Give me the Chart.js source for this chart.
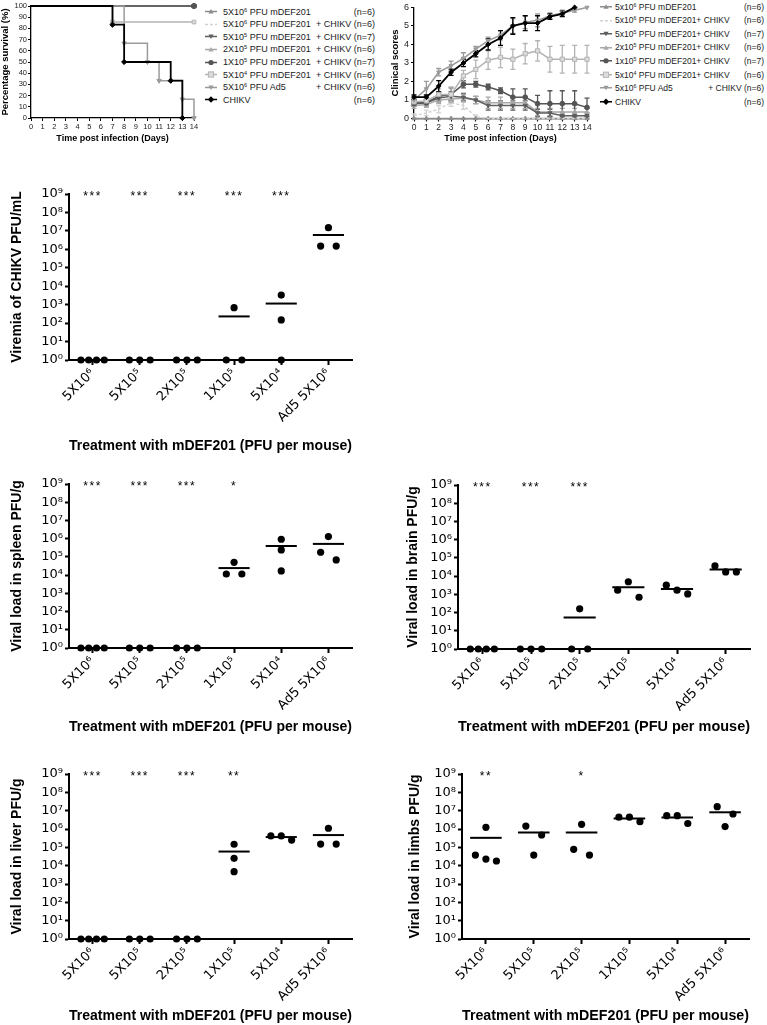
<!DOCTYPE html>
<html>
<head>
<meta charset="utf-8">
<title>mDEF201 protection against CHIKV</title>
<script src="https://cdn.jsdelivr.net/npm/chart.js@4.4.1/dist/chart.umd.min.js"></script>
<style>
html,body{margin:0;padding:0;background:#fff;}
body{position:relative;width:767px;height:1025px;overflow:hidden;font-family:"Liberation Sans",Arial,Helvetica,sans-serif;}
canvas{position:absolute;}
.legend{position:absolute;color:#1a1a1a;}
.lrow{position:absolute;left:0;display:flex;align-items:center;white-space:nowrap;transform:translateY(-50%);line-height:1;}
.lrow svg{flex:none;}
.lrow .nm{flex:1 1 auto;}
.lrow .sf{flex:none;text-align:right;}
sup{font-size:0.62em;line-height:0;vertical-align:0.5em;}
</style>
</head>
<body>
<canvas id="cSurv"></canvas>
<div id="leg1" class="legend"></div>
<canvas id="cClin"></canvas>
<div id="leg2" class="legend"></div>
<canvas id="cVir"></canvas>
<canvas id="cSpl"></canvas>
<canvas id="cBra"></canvas>
<canvas id="cLiv"></canvas>
<canvas id="cLim"></canvas>
<script>
const FONT = '"Liberation Sans", Arial, Helvetica, sans-serif';
const TICKFONT = '"DejaVu Sans", "Liberation Sans", Arial, sans-serif';

/* ================= DATA ================= */
const days = [0,1,2,3,4,5,6,7,8,9,10,11,12,13,14];

// Kaplan-Meier survival (%): event days and survival after each event
const survDays5e6  = [0,14];              const survPct5e6  = [100,100];
const survDays5e6C = [0,14];              const survPct5e6C = [100,100];
const survDays5e5  = [0,14];              const survPct5e5  = [100,100];
const survDays2e5  = [0,14];              const survPct2e5  = [100,100];
const survDays1e5  = [0,14];              const survPct1e5  = [100,100];
const survDays5e4  = [0,7,14];            const survPct5e4  = [100,85.7,85.7];
const survDaysAd5  = [0,8,10,11,13,14];   const survPctAd5  = [100,66.7,50,33.3,16.7,0];
const survDaysCHIKV= [0,7,8,12,13];       const survPctCHIKV= [100,83.3,50,33.3,0];

// clinical scores (mean) and SEM per day
const clin5e6   = [0,0,0,0,0,0,0,0,0,0,0,0,0,0,0];
const sem5e6    = [0,0,0,0,0,0,0,0,0,0,0,0,0,0,0];
const clin5e6C  = [0.15,0.3,0.5,0.85,0.7,0.1,0,0,0,0,0,0,0,0,0];
const sem5e6C   = [0.1,0.15,0.2,0.2,0.2,0.1,0,0,0,0,0,0,0,0,0];
const clin5e5   = [0.85,0.85,1.1,1.2,1.15,1.0,0.7,0.7,0.7,0.7,0.3,0.3,0.15,0.15,0.15];
const sem5e5    = [0.15,0.15,0.2,0.25,0.2,0.2,0.25,0.25,0.25,0.25,0.2,0.2,0.15,0.15,0.15];
const clin2e5   = [0.7,0.75,1.0,1.05,1.1,1.0,0.85,0.85,0.85,0.85,0.35,0.35,0.35,0.35,0.35];
const sem2e5    = [0.15,0.15,0.2,0.2,0.2,0.2,0.3,0.3,0.3,0.3,0.2,0.2,0.2,0.2,0.2];
const clin1e5   = [0.8,0.85,1.2,1.3,1.85,1.85,1.7,1.5,1.15,1.15,0.8,0.8,0.8,0.8,0.6];
const sem1e5    = [0.15,0.15,0.2,0.35,0.2,0.15,0.15,0.15,0.45,0.45,0.45,0.7,0.7,0.7,0.5];
const clin5e4   = [0.9,0.95,1.3,1.3,2.3,2.65,3.15,3.3,3.2,3.5,3.65,3.2,3.2,3.2,3.2];
const sem5e4    = [0.15,0.2,0.3,0.4,0.3,0.5,0.5,0.55,0.55,0.55,0.55,0.7,0.75,0.75,0.75];
const clinAd5   = [1.0,1.6,2.5,2.85,3.25,3.75,4.2,4.5,5.0,5.2,5.3,5.55,5.7,5.85,6.0];
const semAd5    = [0.15,0.4,0.2,0.25,0.3,0.15,0.2,0.25,0.4,0.35,0.35,0.15,0.15,0.1,0];
const clinCHIKV = [1.15,1.15,1.75,2.5,3.0,3.5,4.0,4.35,5.0,5.15,5.15,5.5,5.65,6.0,null];
const semCHIKV  = [0.12,0.12,0.3,0.17,0.2,0.17,0.3,0.4,0.45,0.4,0.4,0.15,0.15,0,null];

// legends
const legend1Names = ['5X10<sup>6</sup> PFU mDEF201','5X10<sup>6</sup> PFU mDEF201','5X10<sup>5</sup> PFU mDEF201','2X10<sup>5</sup> PFU mDEF201','1X10<sup>5</sup> PFU mDEF201','5X10<sup>4</sup> PFU mDEF201','5X10<sup>6</sup> PFU Ad5','CHIKV'];
const legend1Suffix = ['(n=6)','+ CHIKV (n=6)','+ CHIKV (n=7)','+ CHIKV (n=6)','+ CHIKV (n=7)','+ CHIKV (n=6)','+ CHIKV (n=6)','(n=6)'];
const legend2Names = ['5x10<sup>6</sup> PFU mDEF201','5x10<sup>6</sup> PFU mDEF201+ CHIKV','5x10<sup>5</sup> PFU mDEF201+ CHIKV','2x10<sup>5</sup> PFU mDEF201+ CHIKV','1x10<sup>5</sup> PFU mDEF201+ CHIKV','5x10<sup>4</sup> PFU mDEF201+ CHIKV','5x10<sup>6</sup> PFU Ad5','CHIKV'];
const legend2Suffix = ['(n=6)','(n=6)','(n=7)','(n=6)','(n=7)','(n=6)','+ CHIKV (n=6)','(n=6)'];

// virus titers (one sub-array per treatment group, points listed left to right)
const categories = ['5X10⁶','5X10⁵','2X10⁵','1X10⁵','5X10⁴','Ad5 5X10⁶'];
const decadeTicks = [1,10,100,1e3,1e4,1e5,1e6,1e7,1e8,1e9];
const viremia = [[1,1,1,1],[1,1,1],[1,1,1],[1,690,1],[3300,148,1],[1.5e6,1.5e7,1.5e6]];
const viremiaSig = ['***','***','***','***','***',''];
const spleen = [[1,1,1,1],[1,1,1],[1,1,1],[1.15e4,5e4,1.15e4],[9.3e5,2.4e5,1.7e4],[1.8e5,1.3e6,6.8e4]];
const spleenSig = ['***','***','***','*','',''];
const brain = [[1,1,1,1],[1,1,1],[1,160,1],[1700,4900,690],[3200,1700,1050],[3.6e4,1.7e4,1.7e4]];
const brainSig = ['***','***','***','','',''];
const liver = [[1,1,1,1],[1,1,1],[1,1,1],[1.47e5,2.5e4,4.7e3],[4.2e5,4.2e5,2.5e5],[1.5e5,1.1e6,1.5e5]];
const liverSig = ['***','***','***','**','',''];
const limbs = [[3.8e4,1.24e6,2.3e4,1.8e4],[1.45e6,3.8e4,4.7e5],[7.8e4,1.8e6,3.8e4],[4.4e6,4.4e6,2.5e6],[5.3e6,5.3e6,2.0e6],[1.65e7,1.35e6,6.6e6]];
const limbsSig = ['**','','*','','',''];

/* ================= STYLES / LAYOUT ================= */
const seriesStyle = [
  {color:'#8c8c8c', shape:'triangle', rot:0},
  {color:'#d2d2d2', shape:null, dash:[3,2]},
  {color:'#5f5f5f', shape:'triangle', rot:180},
  {color:'#a8a8a8', shape:'triangle', rot:0},
  {color:'#555555', shape:'circle'},
  {color:'#b4b4b4', shape:'rect', fill:'#dcdcdc'},
  {color:'#9b9b9b', shape:'triangle', rot:180},
  {color:'#000000', shape:'rectRot'}
];
const SUP = ['⁰','¹','²','³','⁴','⁵','⁶','⁷','⁸','⁹'];
const BOX = {
  surv:{cx:0,  cy:0,  w:200,h:146,axisX:31, right:194,top:6,  bot:118,  yTitleX:5,  xTitleY:139},
  clin:{cx:380,cy:0,  w:216,h:146,axisX:414,right:587,top:7,  bot:118.5,yTitleX:395,xTitleY:139},
  vir: {cx:0,  cy:160,w:380,h:300,axisX:69, right:352,top:194,bot:360,  yTitleX:17, xTitleY:446},
  spl: {cx:0,  cy:470,w:380,h:270,axisX:69, right:352,top:484,bot:648,  yTitleX:17, xTitleY:727},
  bra: {cx:380,cy:470,w:387,h:270,axisX:458,right:750,top:485,bot:649,  yTitleX:413,xTitleY:727},
  liv: {cx:0,  cy:745,w:380,h:280,axisX:69, right:352,top:774,bot:939,  yTitleX:17, xTitleY:1017},
  lim: {cx:380,cy:745,w:387,h:280,axisX:462,right:749,top:774,bot:939,  yTitleX:415,xTitleY:1017}
};

Chart.defaults.font.family = FONT;
Chart.defaults.color = '#000';
Chart.defaults.animation = false;

function place(id, s){
  const c = document.getElementById(id);
  c.width = s.w; c.height = s.h;
  c.style.left = s.cx + 'px'; c.style.top = s.cy + 'px';
  c.style.width = s.w + 'px'; c.style.height = s.h + 'px';
  return c;
}
function frame(s, yTitleSize, xTitleSize){
  return {
    padding:{left:0, top:s.top - s.cy, right:s.cx + s.w - s.right, bottom:0},
    yW: s.axisX - s.cx,
    xH: s.cy + s.h - s.bot,
    yTitlePad: Math.max(0, s.yTitleX - s.cx - yTitleSize*1.2/2),
    xTitlePad: Math.max(0, s.cy + s.h - s.xTitleY - xTitleSize*1.2/2)
  };
}
const axisGrid = (len, w) => ({display:true, drawOnChartArea:false, drawTicks:true, tickLength:len, tickWidth:w, tickColor:'#000'});
const axisBorder = (w) => ({display:true, color:'#000', width:w});

/* ================= SURVIVAL ================= */
(function(){
  const s = BOX.surv, f = frame(s, 9.5, 9);
  const cv = place('cSurv', s);
  const sets = [
    [survDays5e6, survPct5e6, 0, 5], [survDays5e6C, survPct5e6C, 1, 6], [survDays5e5, survPct5e5, 2, 4],
    [survDays2e5, survPct2e5, 3, 3], [survDays1e5, survPct1e5, 4, 2], [survDays5e4, survPct5e4, 5, 1],
    [survDaysAd5, survPctAd5, 6, 1], [survDaysCHIKV, survPctCHIKV, 7, 0]
  ];
  const datasets = sets.map(([d,p,k,ord]) => {
    const st = seriesStyle[k];
    return {
      data: d.map((x,i)=>({x:x, y:p[i]})),
      stepped: true, borderColor: st.color, borderWidth: k===7 ? 1.8 : 1.5,
      borderDash: st.dash || [], order: ord, clip: false,
      pointStyle: st.shape || 'circle', pointRotation: st.rot || 0,
      pointRadius: c => (c.dataIndex === 0 || !st.shape) ? 0 : 2.6,
      pointBackgroundColor: st.fill || st.color, pointBorderColor: st.color, pointBorderWidth: 1
    };
  });
  new Chart(cv, {
    type:'line',
    data:{datasets},
    options:{
      responsive:false, animation:false, layout:{padding:f.padding},
      plugins:{legend:{display:false}, tooltip:{enabled:false}},
      scales:{
        x:{type:'linear', min:0, max:14, afterFit:sc=>{sc.height=f.xH;},
           ticks:{stepSize:1, autoSkip:false, maxRotation:0, font:{size:7.5}, color:'#222', padding:1},
           grid:axisGrid(3,1), border:axisBorder(1.3),
           title:{display:true, text:'Time post infection (Days)', font:{size:9, weight:'bold'}, color:'#000', padding:{top:0,bottom:f.xTitlePad}}},
        y:{type:'linear', min:0, max:100, afterFit:sc=>{sc.width=f.yW;},
           ticks:{stepSize:10, autoSkip:false, font:{size:7.5}, color:'#222', padding:1},
           grid:axisGrid(3,1), border:axisBorder(1.3),
           title:{display:true, text:'Percentage survival (%)', font:{size:9.5, weight:'bold'}, color:'#000', padding:{top:f.yTitlePad,bottom:0}}}
      }
    }
  });
})();

/* ================= CLINICAL SCORES ================= */
const errorBarPlugin = {
  id:'errbars',
  beforeDatasetsDraw(chart){
    const {ctx, scales:{x, y}} = chart;
    chart.data.datasets.forEach(ds => {
      if (!ds.errors) return;
      ctx.save();
      ctx.strokeStyle = ds.borderColor; ctx.lineWidth = 1.3;
      ds.data.forEach((p, j) => {
        const e = ds.errors[j];
        if (p.y == null || !e) return;
        const px = x.getPixelForValue(p.x);
        const y1 = y.getPixelForValue(p.y + e), y2 = y.getPixelForValue(Math.max(0, p.y - e));
        ctx.beginPath();
        ctx.moveTo(px, y1); ctx.lineTo(px, y2);
        ctx.moveTo(px - 2.5, y1); ctx.lineTo(px + 2.5, y1);
        ctx.moveTo(px - 2.5, y2); ctx.lineTo(px + 2.5, y2);
        ctx.stroke();
      });
      ctx.restore();
    });
  }
};
(function(){
  const s = BOX.clin, f = frame(s, 9.5, 9);
  const cv = place('cClin', s);
  const sets = [
    [clin5e6, sem5e6, 0, 7], [clin5e6C, sem5e6C, 1, 6], [clin5e5, sem5e5, 2, 4], [clin2e5, sem2e5, 3, 5],
    [clin1e5, sem1e5, 4, 3], [clin5e4, sem5e4, 5, 2], [clinAd5, semAd5, 6, 1], [clinCHIKV, semCHIKV, 7, 0]
  ];
  const datasets = sets.map(([v,e,k,ord]) => {
    const st = seriesStyle[k];
    return {
      data: days.map((d,i)=>({x:d, y:v[i]})), errors: e,
      borderColor: st.color, borderWidth: k===7 ? 1.8 : 1.5, borderDash: st.dash || [],
      order: ord, clip:false, spanGaps:false,
      pointStyle: st.shape || 'circle', pointRotation: st.rot || 0,
      pointRadius: st.shape ? (st.shape==='rect' ? 3 : 2.4) : 0,
      pointBackgroundColor: st.fill || st.color, pointBorderColor: st.color, pointBorderWidth: 1
    };
  });
  new Chart(cv, {
    type:'line',
    data:{datasets},
    options:{
      responsive:false, animation:false, layout:{padding:f.padding},
      plugins:{legend:{display:false}, tooltip:{enabled:false}},
      scales:{
        x:{type:'linear', min:0, max:14, afterFit:sc=>{sc.height=f.xH;},
           ticks:{stepSize:1, autoSkip:false, maxRotation:0, font:{size:8.5}, color:'#222', padding:1},
           grid:axisGrid(3,1), border:axisBorder(1.3),
           title:{display:true, text:'Time post infection (Days)', font:{size:9, weight:'bold'}, color:'#000', padding:{top:0,bottom:f.xTitlePad}}},
        y:{type:'linear', min:0, max:6, afterFit:sc=>{sc.width=f.yW;},
           ticks:{stepSize:1, autoSkip:false, font:{size:9}, color:'#222', padding:2},
           grid:axisGrid(3,1), border:axisBorder(1.3),
           title:{display:true, text:'Clinical scores', font:{size:9.5, weight:'bold'}, color:'#000', padding:{top:f.yTitlePad,bottom:0}}}
      }
    },
    plugins:[errorBarPlugin]
  });
})();

/* ================= LEGENDS ================= */
function symbolSVG(st, w){
  const h = 8, cy = 4, cx = w/2, r = 2.6;
  let s = `<svg width="${w}" height="${h}" viewBox="0 0 ${w} ${h}">`;
  s += `<line x1="0" y1="${cy}" x2="${w}" y2="${cy}" stroke="${st.color}" stroke-width="1.4"${st.dash ? ` stroke-dasharray="${st.dash.join(',')}"` : ''}/>`;
  if (st.shape === 'circle') s += `<circle cx="${cx}" cy="${cy}" r="${r}" fill="${st.color}"/>`;
  else if (st.shape === 'rect') s += `<rect x="${cx-r}" y="${cy-r}" width="${2*r}" height="${2*r}" fill="${st.fill}" stroke="${st.color}" stroke-width="1"/>`;
  else if (st.shape === 'rectRot') s += `<polygon points="${cx},${cy-r-0.6} ${cx+r+0.6},${cy} ${cx},${cy+r+0.6} ${cx-r-0.6},${cy}" fill="${st.color}"/>`;
  else if (st.shape === 'triangle') {
    s += st.rot ? `<polygon points="${cx-r},${cy-r*0.8} ${cx+r},${cy-r*0.8} ${cx},${cy+r}" fill="${st.color}"/>`
                : `<polygon points="${cx},${cy-r} ${cx+r},${cy+r*0.8} ${cx-r},${cy+r*0.8}" fill="${st.color}"/>`;
  }
  return s + '</svg>';
}
function buildLegend(id, left, top, width, step, names, suffixes, size, symW, gap){
  const div = document.getElementById(id);
  div.style.left = left + 'px'; div.style.top = top + 'px'; div.style.width = width + 'px'; div.style.fontSize = size + 'px';
  names.forEach((n, k) => {
    const row = document.createElement('div');
    row.className = 'lrow';
    row.style.top = (k*step) + 'px'; row.style.width = width + 'px';
    row.innerHTML = symbolSVG(seriesStyle[k], symW) + `<span class="nm" style="margin-left:${gap}px">${n}</span><span class="sf">${suffixes[k]}</span>`;
    div.appendChild(row);
  });
}
buildLegend('leg1', 205, 11.7, 170, 12.6, legend1Names, legend1Suffix, 9, 12, 6);
buildLegend('leg2', 600, 6.7, 164, 13.57, legend2Names, legend2Suffix, 8.5, 12, 3);

/* ================= TITER PANELS ================= */
function spread(vals){
  const n = vals.length, lg = vals.map(v => Math.log10(v));
  const idx = vals.map((_, i) => i).sort((a, b) => lg[b] - lg[a]);
  const clusters = []; let cur = [idx[0]];
  for (let k = 1; k < n; k++) {
    if (lg[idx[k-1]] - lg[idx[k]] < 0.52) cur.push(idx[k]); else { clusters.push(cur); cur = [idx[k]]; }
  }
  clusters.push(cur);
  const off = new Array(n).fill(0);
  clusters.forEach(c => {
    c.sort((a, b) => a - b);
    const m = c.length, sp = 0.66 / m;
    c.forEach((j, k) => { off[j] = (k - (m - 1)/2) * sp; });
  });
  return off;
}
const mean = a => a.reduce((p, q) => p + q, 0) / a.length;
const sigPlugin = {
  id:'sig',
  afterDatasetsDraw(chart, args, opts){
    const {ctx, scales:{x, y}} = chart;
    ctx.save();
    ctx.font = '12px ' + FONT; ctx.fillStyle = '#000'; ctx.textAlign = 'center'; ctx.textBaseline = 'middle';
    try { ctx.letterSpacing = '1.5px'; } catch(e) {}
    (opts.labels || []).forEach((t, i) => { if (t) ctx.fillText(t, x.getPixelForValue(i), y.getPixelForValue(1e9) + 3); });
    ctx.restore();
  }
};
function titerPanel(id, s, groups, sig, yTitle){
  const cv = place(id, s);
  const f = frame(s, 14, 15);
  const pts = [];
  groups.forEach((g, i) => { const off = spread(g); g.forEach((v, j) => pts.push({x:i + off[j], y:v})); });
  const means = groups.map((g, i) => ({
    data:[{x:i-0.33, y:mean(g)}, {x:i+0.33, y:mean(g)}], showLine:true,
    borderColor:'#000', borderWidth:2, pointRadius:0, clip:false, order:1
  }));
  new Chart(cv, {
    type:'scatter',
    data:{datasets:[{data:pts, backgroundColor:'#000', borderColor:'#000', borderWidth:0, pointRadius:3.6, clip:false, order:0}, ...means]},
    options:{
      responsive:false, animation:false, layout:{padding:f.padding},
      plugins:{legend:{display:false}, tooltip:{enabled:false}, sig:{labels:sig}},
      scales:{
        x:{type:'linear', min:-0.5, max:5.5,
           afterBuildTicks:sc=>{ sc.ticks = categories.map((c, i) => ({value:i})); },
           afterFit:sc=>{ sc.height = f.xH; },
           ticks:{callback:v => categories[v], minRotation:45, maxRotation:45, autoSkip:false, font:{size:13, family:TICKFONT}, color:'#000', padding:1},
           grid:axisGrid(5,2), border:axisBorder(2),
           title:{display:true, text:'Treatment with mDEF201 (PFU per mouse)', font:{size:15, weight:'bold'}, color:'#000', padding:{top:0, bottom:f.xTitlePad}}},
        y:{type:'logarithmic', min:1, max:1e9,
           afterBuildTicks:sc=>{ sc.ticks = decadeTicks.map(v => ({value:v})); },
           afterFit:sc=>{ sc.width = f.yW; },
           ticks:{callback:v => '10' + SUP[Math.round(Math.log10(v))], autoSkip:false, font:{size:13, family:TICKFONT}, color:'#000', padding:2},
           grid:axisGrid(4,2), border:axisBorder(2),
           title:{display:true, text:yTitle, font:{size:14, weight:'bold'}, color:'#000', padding:{top:f.yTitlePad, bottom:0}}}
      }
    },
    plugins:[sigPlugin]
  });
}
titerPanel('cVir', BOX.vir, viremia, viremiaSig, 'Viremia of CHIKV PFU/mL');
titerPanel('cSpl', BOX.spl, spleen, spleenSig, 'Viral load in spleen PFU/g');
titerPanel('cBra', BOX.bra, brain, brainSig, 'Viral load in brain PFU/g');
titerPanel('cLiv', BOX.liv, liver, liverSig, 'Viral load in liver PFU/g');
titerPanel('cLim', BOX.lim, limbs, limbsSig, 'Viral load in limbs PFU/g');
</script>
</body>
</html>
